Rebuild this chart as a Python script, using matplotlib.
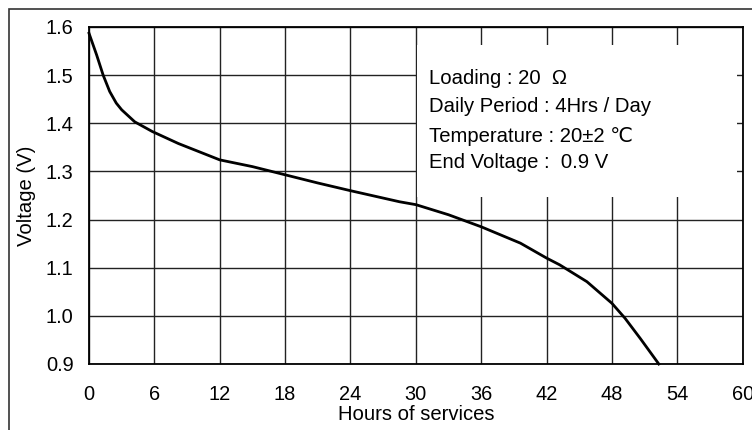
import matplotlib
matplotlib.use("Agg")
import matplotlib.pyplot as plt
from matplotlib.patches import Rectangle

hours = [0, 0.7, 1.3, 1.9, 2.5, 3.0, 4.2, 5.8, 8.2, 12, 15, 18, 21, 24, 28.5, 30, 33, 36,
         39.6, 42, 43.2, 45.7, 48, 49.2, 50.6, 52.3]
voltage = [1.587, 1.542, 1.500, 1.466, 1.442, 1.428, 1.403, 1.383, 1.358, 1.324, 1.310, 1.293,
           1.276, 1.260, 1.237, 1.231, 1.210, 1.185, 1.151, 1.120, 1.106, 1.071, 1.026, 0.995,
           0.953, 0.90]
x_ticks = [0, 6, 12, 18, 24, 30, 36, 42, 48, 54, 60]
y_ticks = [0.9, 1.0, 1.1, 1.2, 1.3, 1.4, 1.5, 1.6]
info_lines = ["Loading : 20  Ω", "Daily Period : 4Hrs / Day",
              "Temperature : 20±2 ℃", "End Voltage :  0.9 V"]

plt.rcParams['font.family'] = ['Liberation Sans', 'DejaVu Sans']
W, H = 752, 430
fig = plt.figure(figsize=(W / 100, H / 100), dpi=100)
ax = fig.add_axes([89 / W, 1 - 364 / H, (742.7 - 89) / W, (364 - 27) / H])

# outer frame
fig.patches.append(Rectangle((9 / W, -0.1), 1.2, 1 - 9 / H + 0.1, transform=fig.transFigure,
                             fill=False, edgecolor='#333333', linewidth=1.2))

ax.plot(hours, voltage, color='black', linewidth=2.0, zorder=3, clip_on=False,
        solid_joinstyle='round')
ax.set_xlim(0, 60)
ax.set_ylim(0.9, 1.6)
ax.set_xticks(x_ticks)
ax.set_yticks(y_ticks)
ax.set_yticklabels([f"{v:.1f}" for v in y_ticks])
ax.tick_params(length=0, labelsize=14.4)
ax.tick_params(axis='x', pad=15)
ax.tick_params(axis='y', pad=11)
ax.set_axisbelow(True)
ax.grid(True, color='#222222', linewidth=1.0)
for s in ax.spines.values():
    s.set_linewidth(1.3)
    s.set_color('black')

ax.add_patch(Rectangle((30.1, 1.247), 29.4, 1.5626 - 1.247, facecolor='white',
                       edgecolor='none', zorder=1))
ys = [78, 107, 136, 163]
for line, py in zip(info_lines, ys):
    fig.text(429 / W, 1 - py / H, line, fontsize=14.6, ha='left', va='center')

ax.set_ylabel("Voltage (V)", fontsize=14.6)
ax.set_xlabel("Hours of services", fontsize=14.6, labelpad=1)
ax.yaxis.set_label_coords(-0.081, 0.5)

fig.savefig("out.png", dpi=100)
